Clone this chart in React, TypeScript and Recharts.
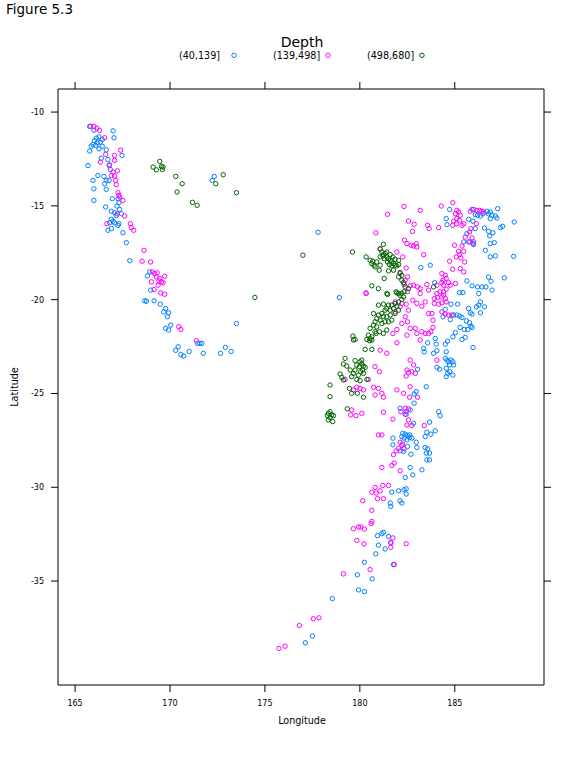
import React from 'react';
import { ScatterChart, Scatter, XAxis, YAxis } from 'recharts';

// quake epicentres, [longitude, latitude], split by depth class
const shallow: [number, number][] = [
  [165.77, -10.77], [165.99, -10.97], [167.0, -11.0], [167.05, -11.37], [166.12, -11.39], [166.26, -11.32],
  [166.03, -11.52], [166.43, -11.46], [166.17, -11.64], [166.33, -11.6], [165.94, -11.73], [166.08, -11.78],
  [166.43, -11.82], [166.26, -11.96], [165.85, -11.82], [165.77, -12.08], [166.64, -12.01], [167.47, -12.31],
  [166.73, -12.53], [166.38, -12.46], [166.82, -12.81], [165.68, -12.85], [166.2, -13.38], [166.52, -13.43],
  [166.64, -13.64], [166.56, -13.82], [166.79, -13.64], [165.94, -13.64], [165.99, -14.09], [166.64, -14.12],
  [166.86, -13.06], [166.96, -14.62], [165.99, -14.71], [167.26, -14.62], [167.31, -14.83], [167.21, -15.01],
  [167.35, -15.19], [166.61, -15.06], [166.91, -15.29], [167.08, -15.36], [167.44, -15.42], [167.17, -15.51],
  [166.91, -15.72], [167.0, -15.82], [166.82, -15.9], [167.08, -15.9], [167.31, -15.95], [166.73, -16.3],
  [166.91, -16.21], [167.26, -16.04], [167.52, -16.43], [167.7, -16.96],
  [167.88, -17.92], [168.81, -18.73], [168.93, -18.52], [168.98, -19.49], [168.67, -20.06], [168.76, -20.08],
  [169.16, -20.06], [169.49, -20.24], [169.77, -20.47], [169.67, -20.65], [169.93, -20.7], [169.86, -20.91],
  [170.04, -21.36], [169.76, -21.53], [169.93, -21.62], [170.43, -22.51], [170.3, -22.7], [170.57, -22.93],
  [170.72, -23.0], [171.01, -22.76], [171.45, -22.33], [171.57, -22.33], [171.68, -22.33], [171.75, -22.86],
  [172.66, -22.86], [172.92, -22.54], [173.22, -22.76], [173.5, -21.27], [172.33, -13.43], [172.22, -13.64],
  [177.8, -16.41],
  [183.21, -18.29], [183.71, -18.16], [183.94, -19.09],
  [184.73, -15.19], [184.55, -15.68], [184.59, -16.0], [185.73, -15.72], [185.96, -15.82], [185.91, -15.19],
  [186.08, -15.47], [186.35, -15.54], [186.7, -15.29], [186.78, -15.42], [186.87, -15.33], [186.96, -15.5],
  [187.14, -15.54], [187.26, -15.15], [187.22, -15.65], [186.87, -15.68], [186.49, -15.42], [186.2, -15.5],
  [186.08, -16.21], [186.56, -16.18], [186.78, -16.36], [186.84, -16.6], [187.01, -16.43], [187.4, -16.16],
  [187.52, -16.09], [188.13, -15.86], [185.73, -16.92], [185.99, -16.92], [185.99, -17.06], [186.87, -17.01],
  [187.08, -16.96], [186.61, -17.37], [186.87, -17.72], [187.14, -17.67], [188.1, -17.69], [185.47, -16.92],
  [185.64, -16.48], [186.78, -18.79], [186.91, -19.02], [187.61, -18.84], [185.64, -19.0], [185.91, -19.26],
  [186.2, -19.32], [186.43, -19.32], [186.64, -19.32], [186.96, -19.49], [185.25, -19.62], [185.43, -19.62],
  [186.26, -19.67],
  [178.92, -19.89], [183.57, -22.3], [183.36, -22.6], [183.39, -22.78], [183.04, -23.71], [183.5, -24.64],
  [182.86, -25.03], [182.97, -24.9],
  [184.8, -20.24], [185.15, -20.24], [184.5, -20.52], [184.38, -20.91], [184.76, -21.06], [184.94, -20.82],
  [185.11, -20.82], [185.26, -20.88], [185.38, -20.95], [185.73, -20.47], [185.82, -20.7], [185.91, -20.77],
  [186.14, -20.38], [186.26, -20.29], [186.35, -20.12], [186.56, -20.38], [186.35, -20.7], [185.61, -21.13],
  [185.78, -21.23], [185.85, -21.41], [185.91, -21.48], [185.68, -21.59], [185.5, -21.59], [185.29, -21.48],
  [185.03, -21.76], [184.9, -21.98], [185.38, -22.12], [185.55, -22.01], [184.62, -22.21], [184.5, -22.37],
  [183.97, -22.07], [184.02, -22.37], [183.88, -22.86], [184.06, -22.72], [184.55, -22.78], [185.96, -22.55],
  [184.5, -23.13], [184.59, -23.22], [184.67, -23.31], [184.8, -23.22], [184.9, -23.31], [184.73, -23.48],
  [184.94, -23.48], [184.55, -23.66], [184.73, -23.84], [184.62, -23.93], [184.55, -24.1], [184.9, -24.02],
  [184.06, -23.61], [184.2, -23.71],
  [182.12, -25.79], [182.44, -25.97], [182.65, -25.88], [182.86, -25.52], [182.39, -26.11], [182.83, -26.59],
  [183.67, -26.53], [184.15, -25.97], [184.23, -26.18], [183.97, -26.99], [183.53, -27.07], [183.74, -27.17],
  [183.44, -27.3], [182.26, -27.12], [182.39, -27.17], [182.51, -27.24], [182.62, -27.21], [182.21, -27.3],
  [182.33, -27.38], [182.48, -27.47], [182.62, -27.35], [182.74, -27.38], [181.74, -27.38], [181.74, -27.74],
  [182.21, -27.77], [182.51, -27.83], [182.12, -28.06], [182.3, -28.09], [182.69, -28.24], [182.97, -27.6],
  [183.0, -27.88], [183.44, -27.88], [183.57, -27.95], [183.67, -28.18], [183.5, -28.18], [183.53, -28.54],
  [183.67, -28.54], [182.65, -28.95], [182.79, -29.34], [182.39, -29.48], [183.27, -29.07], [182.44, -30.08],
  [182.33, -30.13], [182.04, -30.19], [181.68, -30.26], [182.44, -30.36], [182.12, -30.72], [182.21, -30.84],
  [181.6, -30.84],
  [181.63, -31.02], [180.93, -32.58], [181.16, -32.47], [181.24, -32.4], [181.51, -32.62], [180.98, -33.09],
  [181.63, -32.97], [181.33, -33.29], [180.84, -33.55], [180.24, -34.0], [181.77, -34.12], [179.87, -34.67],
  [180.65, -34.88], [179.93, -35.47], [180.24, -35.56], [178.55, -35.93], [177.5, -37.93], [177.13, -38.29],
];

const intermediate: [number, number][] = [
  [165.82, -10.75], [165.99, -10.77], [166.15, -10.86], [166.29, -10.98], [166.56, -11.37], [166.61, -12.26],
  [167.08, -12.31], [167.4, -12.03], [167.08, -12.58], [166.33, -12.67], [166.79, -12.85], [167.23, -13.13],
  [167.0, -13.2], [166.91, -13.38], [167.08, -13.41], [167.14, -13.64], [167.17, -13.87], [167.26, -14.3],
  [167.31, -14.44], [167.35, -14.53], [167.52, -14.71], [167.21, -15.42], [167.61, -15.54], [167.91, -15.95],
  [167.96, -16.16], [168.09, -16.3], [166.68, -15.95],
  [168.63, -17.37], [168.53, -17.95], [168.98, -17.99], [169.07, -18.52], [169.19, -18.61], [169.32, -18.57],
  [169.28, -18.79], [169.46, -18.87], [169.42, -19.0], [169.55, -19.05], [169.72, -18.75], [169.63, -19.1],
  [169.37, -19.23], [169.02, -19.05], [169.16, -19.46], [169.51, -19.64], [169.72, -19.71], [170.46, -21.44],
  [170.57, -21.59], [171.39, -22.19],
  [182.33, -15.03], [183.18, -15.24], [181.46, -15.45], [182.56, -15.81], [182.86, -15.98], [183.57, -16.04],
  [183.65, -16.21], [184.15, -16.16], [182.77, -16.36], [180.84, -16.44], [182.35, -16.83], [182.48, -17.01],
  [182.7, -17.1], [182.83, -17.14], [182.97, -17.01], [183.0, -17.19], [181.07, -17.31], [181.95, -17.46],
  [182.26, -17.72], [183.36, -17.6], [182.44, -18.31], [182.12, -18.61], [182.51, -18.78], [182.39, -18.96],
  [182.33, -19.19], [182.65, -19.26], [182.83, -19.23], [183.04, -19.32], [183.18, -19.41], [183.53, -19.19],
  [183.62, -19.49], [184.06, -19.23], [180.33, -19.64], [182.51, -19.58], [183.18, -19.67],
  [184.9, -14.83], [184.29, -15.01], [185.11, -15.24], [185.03, -15.42], [185.2, -15.33], [185.29, -15.5],
  [185.11, -15.68], [185.25, -15.77], [184.94, -15.82], [184.89, -16.04], [185.08, -15.95], [185.38, -16.04],
  [185.47, -15.95], [185.82, -15.29], [185.99, -15.19], [186.17, -15.24], [186.31, -15.24], [186.43, -15.29],
  [186.52, -15.33], [186.13, -15.95], [185.85, -16.21], [185.78, -16.39], [185.55, -16.66], [185.91, -16.71],
  [185.78, -16.92], [185.96, -17.01], [184.99, -17.1], [185.38, -17.14], [185.2, -17.42], [185.47, -17.42],
  [185.25, -17.6], [185.08, -17.72], [185.32, -17.77], [185.52, -17.99], [184.73, -17.95], [184.89, -18.38],
  [185.29, -18.34], [185.47, -18.52], [184.5, -18.7], [184.32, -18.61], [184.55, -18.87], [184.38, -18.96],
  [184.32, -19.09], [184.41, -19.23], [184.67, -19.09], [184.55, -19.44], [184.41, -19.58], [184.76, -19.23],
  [185.03, -19.14], [184.23, -19.58],
  [180.33, -19.67], [181.86, -20.12], [182.21, -20.2], [182.12, -20.38], [182.44, -20.24], [182.56, -20.56],
  [182.79, -20.03], [183.0, -20.2], [183.27, -20.35], [183.44, -20.12], [181.86, -20.65], [182.39, -20.91],
  [182.51, -21.18], [182.21, -21.27], [181.95, -21.59], [181.74, -21.8], [182.65, -21.53], [182.92, -21.53],
  [183.0, -21.8], [183.27, -21.71], [183.44, -21.8], [183.62, -21.8], [182.48, -21.89], [183.18, -22.15],
  [181.95, -22.3], [181.07, -22.69], [181.42, -22.86], [180.8, -23.57], [181.03, -23.84], [182.65, -23.22],
  [182.83, -23.48], [182.48, -23.75], [182.56, -23.89], [182.74, -23.84], [182.44, -24.07], [182.92, -23.93],
  [179.22, -24.25], [179.66, -24.81], [179.84, -24.67], [180.01, -24.73], [180.19, -24.81], [180.45, -24.25],
  [180.72, -24.67], [180.98, -24.73], [181.16, -24.99], [180.8, -25.08], [181.24, -25.2], [181.95, -24.81],
  [182.3, -24.99], [182.62, -25.2], [183.04, -25.2], [182.65, -24.64], [183.62, -20.74],
  [183.92, -19.94], [184.09, -19.89], [184.32, -19.85], [184.5, -19.94], [183.92, -20.2], [184.15, -20.24],
  [184.32, -20.17], [184.55, -20.12], [184.41, -19.76], [184.06, -19.67], [184.32, -20.65], [184.5, -20.77],
  [184.67, -20.82], [184.85, -20.82], [183.85, -21.09], [183.8, -20.74], [183.74, -21.71], [184.06, -23.22],
  [183.85, -21.48],
  [179.57, -25.88], [179.52, -26.14], [179.8, -26.18], [180.1, -26.06], [181.24, -26.0], [181.74, -26.37],
  [182.16, -25.97], [182.39, -25.79], [182.56, -25.82], [182.44, -26.11], [182.56, -26.41], [182.48, -26.68],
  [182.74, -26.71], [183.39, -26.71], [180.98, -27.21], [181.16, -27.21], [182.12, -27.6], [182.26, -27.7],
  [182.04, -27.92], [181.91, -28.06], [182.33, -27.95], [181.77, -28.27], [181.16, -28.95], [181.68, -28.84],
  [181.81, -28.71], [182.12, -29.12], [180.8, -30.01], [181.21, -29.9], [181.51, -29.9], [181.07, -30.19],
  [180.63, -30.26], [180.86, -30.31], [180.93, -30.61], [181.24, -30.61], [180.15, -30.72],
  [180.63, -31.23], [180.63, -31.82], [180.59, -31.94], [179.66, -32.21], [179.93, -32.12], [180.05, -32.12],
  [180.24, -32.23], [179.84, -32.83], [180.22, -33.02], [181.74, -32.7], [181.63, -32.93], [181.63, -33.2],
  [182.44, -33.01], [181.81, -34.12], [180.54, -34.39], [179.13, -34.62], [177.85, -36.96], [177.55, -37.01],
  [176.81, -37.37], [176.06, -38.47], [175.74, -38.59],
];

const deep: [number, number][] = [
  [169.46, -12.63], [169.11, -12.93], [169.28, -13.08], [169.55, -12.9], [169.63, -12.93], [169.6, -13.06],
  [170.3, -13.43], [170.64, -13.82], [170.37, -14.26], [171.18, -14.81], [171.43, -14.97], [172.41, -13.82],
  [172.8, -13.34], [173.5, -14.3], [174.47, -19.88], [177.0, -17.63],
  [181.24, -17.05], [181.07, -17.28], [181.16, -17.46], [181.24, -17.6], [181.33, -17.54], [181.42, -17.72],
  [181.51, -17.81], [181.6, -17.9], [181.68, -17.99], [181.77, -18.08], [181.86, -18.16], [181.95, -18.2],
  [182.04, -18.13], [181.42, -17.46], [181.6, -17.6], [181.74, -17.72], [181.86, -17.85], [182.04, -17.9],
  [181.28, -17.81], [181.46, -17.99], [181.56, -18.13], [181.68, -18.2], [181.21, -17.67], [181.07, -17.72],
  [180.33, -17.72], [180.54, -17.9], [180.63, -18.08], [180.75, -18.16], [180.89, -17.99], [181.07, -18.16],
  [181.02, -18.43], [180.8, -18.25], [180.68, -17.95], [179.61, -17.46], [181.28, -18.87], [180.63, -19.26],
  [180.98, -19.41], [181.51, -18.47], [181.77, -18.43], [182.12, -18.55], [182.21, -18.7], [182.04, -18.78],
  [182.21, -18.96], [182.3, -19.09], [182.39, -19.32], [182.56, -19.41], [181.91, -19.58], [182.04, -19.67],
  [182.33, -19.58], [181.46, -19.72], [183.88, -19.32], [182.21, -19.67],
  [181.95, -19.64], [182.12, -19.76], [182.3, -19.85], [182.21, -19.99], [182.04, -20.12], [181.86, -20.2],
  [181.68, -20.29], [181.51, -20.29], [181.42, -20.47], [181.33, -20.56], [181.6, -20.56], [181.77, -20.47],
  [181.95, -20.35], [182.04, -20.56], [181.86, -20.74], [181.6, -20.82], [181.42, -20.91], [181.24, -20.88],
  [181.16, -20.74], [180.98, -20.82], [180.89, -21.0], [181.07, -21.09], [180.8, -21.18], [180.72, -21.36],
  [180.89, -21.45], [181.16, -21.27], [181.33, -21.18], [181.51, -21.18], [181.68, -21.09], [180.72, -20.74],
  [180.98, -20.29], [181.24, -20.24], [181.03, -21.71], [180.8, -21.71], [180.54, -21.53], [180.45, -21.89],
  [180.54, -22.07], [180.63, -22.15], [180.51, -22.19], [180.37, -22.12], [180.63, -21.98], [180.86, -21.8],
  [181.24, -21.8], [181.42, -21.62], [179.63, -21.94], [179.75, -22.12], [179.66, -22.15], [180.28, -22.65],
  [180.63, -22.65], [181.42, -19.67], [180.01, -23.31], [180.1, -23.43], [180.19, -23.54], [179.98, -23.57],
  [180.15, -23.75], [180.05, -23.84], [180.19, -23.93], [179.92, -24.02], [180.28, -23.61], [180.1, -23.22],
  [179.84, -23.48], [179.75, -23.75], [179.22, -23.13], [179.13, -23.43], [179.31, -23.54], [179.49, -23.75],
  [179.66, -23.93], [179.57, -24.1], [179.84, -24.25], [180.01, -24.32], [179.75, -23.25], [178.96, -23.96],
  [179.05, -24.14], [179.13, -24.28], [180.37, -24.25], [178.43, -24.55], [178.43, -25.17], [179.57, -24.99],
  [179.87, -24.99], [180.19, -25.2], [179.45, -24.73],
  [178.34, -26.06], [178.43, -25.97], [178.52, -26.14], [178.29, -26.18], [178.61, -26.18], [178.34, -26.41],
  [178.57, -26.5], [178.43, -26.29], [179.34, -25.82],
];

const groups = [
  { name: '(40,139]', color: '#0080ff', points: shallow },
  { name: '(139,498]', color: '#ff00ff', points: intermediate },
  { name: '(498,680]', color: '#006400', points: deep },
];

const lonTicks = [165, 170, 175, 180, 185];
const latTicks = [-35, -30, -25, -20, -15, -10];
const lonDomain = [164.1, 189.7];
const latDomain = [-40.54, -8.77];

const font = 'DejaVu Sans, sans-serif';
const ring = (color: string) => (p: any) => (
  <circle cx={p.cx} cy={p.cy} r={2.2} fill="none" stroke={color} strokeWidth={1} />
);
const nothing = () => <g />;
const blank = () => '';
const toRows = (pts: [number, number][]) => pts.map(([lon, lat]) => ({ lon, lat }));

export default function App() {
  return (
    <div style={{ position: 'absolute', left: 0, top: 0, width: 579, height: 764, background: '#fff', fontFamily: font }}>
      <ScatterChart width={579} height={764} margin={{ top: 88, right: 34, bottom: 49, left: 18 }}>
        <XAxis xAxisId="b" type="number" dataKey="lon" domain={lonDomain} ticks={lonTicks} allowDataOverflow
          height={30} tickSize={7} tickMargin={8} stroke="#000" tick={{ fill: '#000', fontSize: 8, fontFamily: font }} />
        <XAxis xAxisId="t" orientation="top" type="number" dataKey="lon" domain={lonDomain} ticks={lonTicks} allowDataOverflow
          height={1} tickSize={7} tickFormatter={blank} stroke="#000" />
        <YAxis yAxisId="l" type="number" dataKey="lat" domain={latDomain} ticks={latTicks} allowDataOverflow
          width={40} tickSize={7} tickMargin={7} stroke="#000" tick={{ fill: '#000', fontSize: 8, fontFamily: font }} />
        <YAxis yAxisId="r" orientation="right" type="number" dataKey="lat" domain={latDomain} ticks={latTicks} allowDataOverflow
          width={1} tickSize={7} tickFormatter={blank} stroke="#000" />
        {/* invisible copy bound to the top/right axes so the full box gets drawn */}
        <Scatter xAxisId="t" yAxisId="r" data={toRows(shallow)} shape={nothing} isAnimationActive={false} legendType="none" />
        {groups.map((g) => (
          <Scatter key={g.name} name={g.name} xAxisId="b" yAxisId="l" isAnimationActive={false}
            data={toRows(g.points)} shape={ring(g.color)} />
        ))}
      </ScatterChart>
      <svg width={579} height={764} style={{ position: 'absolute', left: 0, top: 0, pointerEvents: 'none' }}>
        <text x={6} y={13.5} fontSize={13.5} fontFamily={font} fill="#000">Figure 5.3</text>
        <text x={302} y={46.5} fontSize={14} fontFamily={font} textAnchor="middle" fill="#000">Depth</text>
        {groups.map((g, i) => (
          <g key={g.name}>
            <text x={179 + i * 94} y={58.8} fontSize={9.6} fontFamily={font} fill="#000">{g.name}</text>
            <circle cx={234 + i * 94} cy={55.3} r={2.2} fill="none" stroke={g.color} strokeWidth={1} />
          </g>
        ))}
        <text x={302} y={724} fontSize={9.6} fontFamily={font} textAnchor="middle" fill="#000">Longitude</text>
        <text transform="translate(17.5,387) rotate(-90)" fontSize={9.6} fontFamily={font} textAnchor="middle" fill="#000">Latitude</text>
      </svg>
    </div>
  );
}
